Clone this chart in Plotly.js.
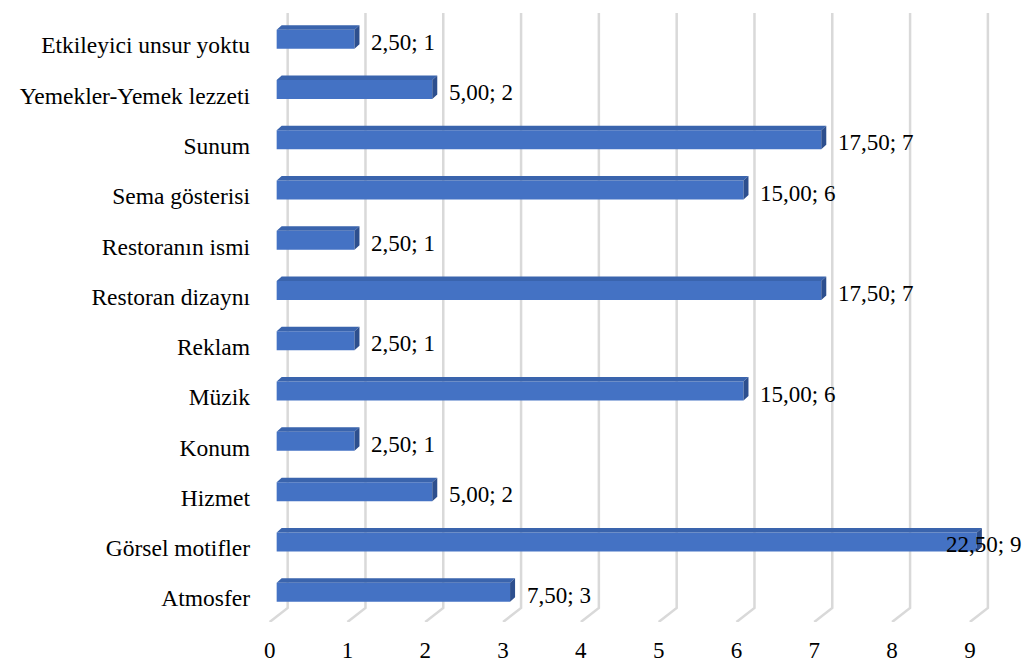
<!DOCTYPE html>
<html>
<head>
<meta charset="utf-8">
<script src="https://cdn.plot.ly/plotly-3.0.1.min.js"></script>
</head>
<body style="margin:0">
<div id="chart"></div>
<script>
// ---- data (bottom to top) ----
const categories = ["Atmosfer", "Görsel motifler", "Hizmet", "Konum", "Müzik", "Reklam",
  "Restoran dizaynı", "Restoranın ismi", "Sema gösterisi", "Sunum",
  "Yemekler-Yemek lezzeti", "Etkileyici unsur yoktu"];
const counts = [3, 9, 2, 1, 6, 1, 7, 1, 6, 7, 2, 1];
const percents = [7.5, 22.5, 5, 2.5, 15, 2.5, 17.5, 2.5, 15, 17.5, 5, 2.5];
const xTicks = [0, 1, 2, 3, 4, 5, 6, 7, 8, 9];

// ---- layout geometry ----
const W = 1031, H = 667;
const mL = 265, mR = 23, mT = 13, mB = 45;
const xRange = [-0.15, 9.4];
const yRange = [-0.593, 11.521];
const plotW = W - mL - mR, plotH = H - mT - mB;
const pxX = plotW / (xRange[1] - xRange[0]);
const pxY = plotH / (yRange[1] - yRange[0]);
const FAMILY = 'Liberation Serif';
const FS = 23, FS_CAT = 23.5;

const barW = 0.378;
const ddx = 5 / pxX, ddy = 4.5 / pxY;
const ys = categories.map((c, i) => i);

const topX = [], topY = [], sideX = [], sideY = [];
counts.forEach((v, i) => {
  const yt = i + barW / 2, yb = i - barW / 2;
  topX.push(0, v, v + ddx, ddx, 0, null);
  topY.push(yt, yt, yt + ddy, yt + ddy, yt, null);
  sideX.push(v, v, v + ddx, v + ddx, v, null);
  sideY.push(yb, yt, yt + ddy, yb + ddy, yb, null);
});

const traces = [
  {type: 'bar', orientation: 'h', x: counts, y: ys, width: barW, base: 0,
   marker: {color: '#4472c4'}, hoverinfo: 'skip'},
  {type: 'scatter', mode: 'lines', x: topX, y: topY, fill: 'toself',
   fillcolor: '#3a64ad', line: {width: 0, color: '#3a64ad'}, hoverinfo: 'skip'},
  {type: 'scatter', mode: 'lines', x: sideX, y: sideY, fill: 'toself',
   fillcolor: '#2d4f8e', line: {width: 0, color: '#2d4f8e'}, hoverinfo: 'skip'}
];

const gBack = 11 / pxX, gFront = -7 / pxX;
const yBackBottom = yRange[0] + 14 / pxY;
const shapes = xTicks.map(t => ({
  type: 'path', xref: 'x', yref: 'y', layer: 'below',
  path: `M ${t + gBack},${yRange[1]} L ${t + gBack},${yBackBottom} L ${t + gFront},${yRange[0]}`,
  line: {color: '#d9d9d9', width: 2.5}
}));

const annotations = counts.map((v, i) => {
  const txt = percents[i].toFixed(2).replace('.', ',') + '; ' + v;
  const estW = txt.length * 0.43 * FS;
  const leftPx = mL + (v - xRange[0]) * pxX + 15;
  const base = {y: i, yref: 'y', text: txt, showarrow: false, yanchor: 'middle', yshift: -3,
    font: {family: FAMILY, size: FS, color: '#000'}};
  if (leftPx + estW > W - 8) {
    return Object.assign(base, {xref: 'paper', x: (W - 8 - mL) / plotW, xanchor: 'right'});
  }
  return Object.assign(base, {xref: 'x', x: v + 15 / pxX, xanchor: 'left'});
});

const layout = {
  width: W, height: H,
  margin: {l: mL, r: mR, t: mT, b: mB},
  paper_bgcolor: '#fff', plot_bgcolor: 'rgba(0,0,0,0)',
  showlegend: false,
  font: {family: FAMILY, size: FS},
  xaxis: {range: xRange, tickvals: xTicks, ticktext: xTicks.map(String),
    showgrid: false, zeroline: false, showline: false, ticks: '',
    ticklabelshift: -7, ticklabelstandoff: 12,
    tickfont: {family: FAMILY, size: FS, color: '#000'}},
  yaxis: {range: yRange, tickvals: ys, ticktext: categories,
    showgrid: false, zeroline: false, showline: false, ticks: '',
    ticklabelshift: 6, ticklabelstandoff: 14,
    tickfont: {family: FAMILY, size: FS_CAT, color: '#000'}},
  shapes: shapes,
  annotations: annotations
};

Plotly.newPlot('chart', traces, layout, {displayModeBar: false});
</script>
</body>
</html>
